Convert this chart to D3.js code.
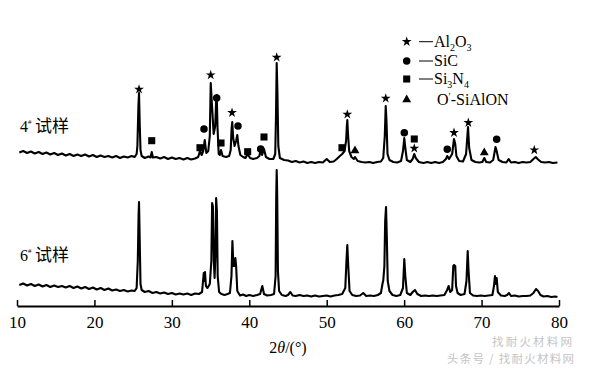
<!DOCTYPE html>
<html>
<head>
<meta charset="utf-8">
<script src="https://cdn.jsdelivr.net/npm/d3@7"></script>
<style>
  html, body { margin: 0; padding: 0; background: #fff; }
  svg { display: block; }
</style>
</head>
<body>
<svg id="chart" width="592" height="368"></svg>
<script>
// ---------------- DATA (2θ in degrees, intensity in arbitrary units, offset traces) ----------------
const xTicks = [10, 20, 30, 40, 50, 60, 70, 80];
const sampleLabels = ["4", "6"];

// 4# sample pattern (upper trace)
const trace4 = [
[10.3,153.5],[10.8,155],[11.3,153],[11.8,154.5],[12.3,152.5],[12.8,154],[13.3,152],[13.8,153.5],[14.3,151.5],[14.8,153],
[15.3,151],[15.8,152.5],[16.3,150.5],[16.8,152],[17.3,150],[17.8,151.5],[18.3,150],[18.8,151.5],[19.3,149.5],[19.8,151],
[20.3,149],[20.8,150.5],[21.3,149],[21.8,150],[22.3,148.5],[22.8,150],[23.3,148],[23.8,149.5],[24.3,148.5],[24.8,150],
[25.2,149],[25.45,152],[25.55,160],[25.68,200],[25.76,213],[25.84,185],[25.95,156],[26.1,150],[26.5,148],[27.0,149.5],
[27.25,148.5],[27.4,154],[27.55,148.5],[28.0,149],[28.5,147.5],[29.0,149],[29.5,147],[30.0,148.5],[30.5,147],[31.0,148],
[31.5,146.5],[32.0,148],[32.5,146.5],[33.0,147.5],[33.4,149],[33.63,155],[33.85,151],[34.05,155],[34.25,166],[34.45,153],
[34.7,155],[34.9,170],[35.02,223],[35.15,205],[35.4,172],[35.6,180],[35.72,205],[35.79,211],[35.9,178],[36.05,152],
[36.2,151],[36.35,156],[36.55,150],[37.0,149],[37.4,150],[37.6,156],[37.72,178],[37.8,184],[37.92,168],[38.1,160],
[38.3,165],[38.45,171],[38.6,160],[38.85,151],[39.2,149],[39.5,148],[39.79,152],[40.1,148],[40.5,147],[41.0,148],
[41.3,150],[41.47,156],[41.65,151],[41.9,157],[42.15,149],[42.6,147],[43.1,147],[43.35,152],[43.45,190],[43.54,243],
[43.63,215],[43.75,160],[43.95,148],[44.5,146],[45.0,145.5],[45.5,144],[46.0,145],[46.5,143.5],[47.0,144.5],[47.5,143],
[48.0,144],[48.5,143],[49.0,144],[49.5,143.5],[50.0,147],[50.4,144],[50.9,144.5],[51.3,147],[51.7,150],[52.0,152],
[52.3,155],[52.5,165],[52.6,180],[52.66,186],[52.75,172],[52.9,155],[53.2,149],[53.5,147],[53.65,149],[54.0,145],
[54.5,144],[55.0,143.5],[55.5,144],[56.0,143],[56.5,144],[57.0,144.5],[57.3,148],[57.5,170],[57.62,200],[57.72,185],
[57.85,152],[58.1,146],[58.6,144],[59.1,143.5],[59.6,145],[59.85,155],[60.02,168],[60.15,158],[60.35,146],[60.8,144],
[61.1,147],[61.3,152],[61.5,148],[61.9,144],[62.5,143],[63.0,144],[63.5,143],[64.0,144],[64.5,143],[65.0,144],
[65.4,147],[65.57,150],[65.8,147],[66.2,152],[66.44,167],[66.6,162],[66.75,150],[67.1,145],[67.6,144.5],[68.0,152],
[68.25,179],[68.4,158],[68.7,146],[69.2,144],[69.7,143.5],[70.1,144],[70.35,148],[70.6,144],[71.1,143.5],[71.5,146],
[71.8,159],[71.95,155],[72.2,146],[72.7,144],[73.2,143.5],[73.5,147],[73.8,143.5],[74.3,144],[74.8,143],[75.3,144],
[75.8,143.5],[76.3,144],[76.7,147],[77.0,149],[77.3,146.5],[77.7,144],[78.2,143.5],[78.7,144],[79.2,143],[79.8,143.5]
];

// 6# sample pattern (lower trace)
const trace6 = [
[10.3,21],[10.8,22.5],[11.3,20.5],[11.8,22],[12.3,20],[12.8,21.5],[13.3,19.5],[13.8,21],[14.3,19],[14.8,20.5],
[15.3,19],[15.8,20],[16.3,18.5],[16.8,20],[17.3,18],[17.8,19.5],[18.3,17.5],[18.8,19],[19.3,17],[19.8,18.5],
[20.3,16.5],[20.8,18],[21.3,16],[21.8,17.5],[22.3,15.5],[22.8,16.5],[23.3,15],[23.8,16],[24.3,14.5],[24.8,15.5],
[25.2,15],[25.45,18],[25.6,45],[25.7,90],[25.76,104],[25.84,70],[25.95,22],[26.1,16],[26.5,14],[27.0,15],
[27.5,13],[28.0,14],[28.5,12.5],[29.0,13.5],[29.5,12],[30.0,13],[30.5,11.5],[31.0,12.5],[31.5,11.5],[32.0,12.5],
[32.5,11],[33.0,12.5],[33.5,12],[33.9,14],[34.12,33],[34.2,25],[34.28,34],[34.4,20],[34.6,18],[34.9,22],
[35.1,45],[35.2,103],[35.3,100],[35.42,45],[35.52,28],[35.62,50],[35.72,108],[35.82,95],[35.92,30],[36.1,14],
[36.4,12],[36.8,11],[37.2,12],[37.5,13],[37.7,30],[37.82,65],[37.95,40],[38.05,40],[38.2,48],[38.3,40],
[38.45,15],[38.8,10.5],[39.2,11.5],[39.6,10],[40.0,11],[40.5,10],[41.0,11],[41.4,12],[41.68,20],[41.9,12],
[42.3,10.5],[42.8,11],[43.2,12],[43.4,30],[43.48,110],[43.54,136],[43.6,115],[43.7,35],[43.85,15],[44.2,11],
[44.7,10],[45.0,11],[45.3,14],[45.6,10.5],[46.0,10],[46.5,11],[47.0,10],[47.5,10.5],[48.0,9.5],[48.5,10.5],
[49.0,9.5],[49.5,10],[50.0,10.5],[50.5,9.5],[51.0,10.5],[51.5,11],[52.0,12],[52.4,18],[52.55,45],[52.66,61],
[52.78,40],[52.95,15],[53.3,11],[53.8,10],[54.3,10.5],[54.72,13],[55.1,10],[55.6,10.5],[56.1,10],[56.6,11],
[57.0,13],[57.2,22],[57.31,26],[57.45,40],[57.55,85],[57.66,99],[57.76,70],[57.88,25],[58.1,15],[58.5,11],
[59.0,10],[59.5,11],[59.85,18],[60.02,47],[60.15,30],[60.35,13],[60.8,11],[61.1,14],[61.4,16],[61.7,12],
[62.2,10],[62.7,10.5],[63.2,10],[63.7,10.5],[64.2,10],[64.7,10.5],[65.2,11],[65.55,16],[65.75,20],[65.95,14],
[66.2,16],[66.35,40],[66.45,41],[66.6,40],[66.7,20],[66.9,13],[67.3,11],[67.8,12],[68.05,25],[68.21,55],
[68.32,35],[68.5,13],[68.9,10.5],[69.4,10],[69.9,10.5],[70.4,10],[70.9,10.5],[71.4,11],[71.6,20],[71.73,30],
[71.85,22],[71.95,28],[72.1,14],[72.5,10.5],[73.0,10],[73.3,11],[73.54,13],[73.8,10],[74.3,10.5],[74.8,9.5],
[75.3,10],[75.8,10],[76.3,10.5],[76.7,13],[77.03,17],[77.3,15],[77.6,11],[78.0,9.5],[78.5,10],[79.0,9],
[79.5,9.5],[79.8,9]
];

// Phase markers on the 4# pattern: [2θ, intensity]
const phaseNames = ["Al2O3", "SiC", "Si3N4", "O'-SiAlON"];
const al2o3Marks = [[25.76,216.7],[35.02,231],[37.77,193.3],[43.54,248.7],[52.66,191.7],[57.62,207.7],[61.31,157.7],[66.44,173.3],[68.29,183.3],[76.81,156]];
const sicMarks   = [[34.15,177],[35.79,208],[38.54,180],[41.47,157],[60.02,173.3],[65.57,156.7],[71.95,166.7]];
const si3n4Marks = [[27.40,165.3],[33.63,158.3],[36.35,163],[39.79,154.3],[41.90,169],[51.97,158.3],[61.31,167]];
const sialonMarks = [[53.65,155.3],[70.35,153.3]];

const xLabel = "2θ/(°)";
const watermark = ["找耐火材料网", "头条号 / 找耐火材料网"];

// ---------------- DRAWING ----------------
const svg = d3.select("#chart");
const serif = "'Liberation Serif', 'Times New Roman', serif";
const cjk = "'Noto Sans CJK SC', 'Noto Sans', sans-serif";

const x = d3.scaleLinear().domain([10, 80]).range([17, 559]);
const y = d3.scaleLinear().domain([0, 300]).range([306, 6]);

const line = d3.line().x(d => x(d[0])).y(d => y(d[1])).curve(d3.curveLinear);

[trace4, trace6].forEach(tr => {
  svg.append("path").datum(tr)
    .attr("d", line)
    .attr("fill", "none")
    .attr("stroke", "#000")
    .attr("stroke-width", 2.1)
    .attr("stroke-linejoin", "round");
});

// x axis
const axis = d3.axisBottom(x).tickValues(xTicks).tickSizeInner(-6).tickSizeOuter(0).tickPadding(10).tickFormat(d3.format("d"));
const gx = svg.append("g").attr("transform", "translate(0,306)").call(axis)
  .attr("font-family", serif).attr("font-size", 17);
gx.select(".domain").attr("stroke", "#000").attr("stroke-width", 2);
gx.selectAll(".tick line").attr("stroke", "#000").attr("stroke-width", 1.5);
gx.selectAll(".tick text").attr("fill", "#000").style("font-family", serif).style("font-size", "17px");

// axis title
const xt = svg.append("text").attr("x", 288).attr("y", 353).attr("text-anchor", "middle")
  .style("font-family", serif).style("font-size", "16px").attr("fill", "#000");
xt.append("tspan").text(xLabel.slice(0, 1));
xt.append("tspan").style("font-style", "italic").text(xLabel.slice(1, 2));
xt.append("tspan").text(xLabel.slice(2));

// symbols
const symDefs = [
  {type: d3.symbolStar, size: 30, data: al2o3Marks},
  {type: d3.symbolCircle, size: 44, data: sicMarks},
  {type: d3.symbolSquare, size: 50, data: si3n4Marks},
  {type: d3.symbolTriangle, size: 34, data: sialonMarks}
];
symDefs.forEach(s => {
  svg.selectAll(null).data(s.data).enter().append("path")
    .attr("d", d3.symbol().type(s.type).size(s.size))
    .attr("transform", d => `translate(${x(d[0])},${y(d[1])})`)
    .attr("fill", "#000");
});

// legend
const legY = [41.7, 61, 79, 99.7];
const legX = 406.7;
symDefs.forEach((s, i) => {
  svg.append("path").attr("d", d3.symbol().type(s.type).size(s.size))
    .attr("transform", `translate(${legX},${legY[i]})`).attr("fill", "#000");
  if (i < 3) {
    svg.append("line").attr("x1", 419).attr("x2", 433).attr("y1", legY[i]).attr("y2", legY[i])
      .attr("stroke", "#000").attr("stroke-width", 1);
  }
  const t = svg.append("text").attr("x", i < 3 ? 434 : 437).attr("y", legY[i] + 5)
    .style("font-family", serif).style("font-size", "16px").attr("fill", "#000");
  const name = phaseNames[i];
  if (i === 0) {
    t.append("tspan").text("Al");
    t.append("tspan").attr("dy", 4).style("font-size", "10px").text("2");
    t.append("tspan").attr("dy", -4).text("O");
    t.append("tspan").attr("dy", 4).style("font-size", "10px").text("3");
  } else if (i === 2) {
    t.append("tspan").text("Si");
    t.append("tspan").attr("dy", 4).style("font-size", "10px").text("3");
    t.append("tspan").attr("dy", -4).text("N");
    t.append("tspan").attr("dy", 4).style("font-size", "10px").text("4");
  } else if (i === 3) {
    t.append("tspan").text("O");
    t.append("tspan").attr("dy", -5).style("font-size", "10px").text("′");
    t.append("tspan").attr("dy", 5).text("-SiAlON");
  } else {
    t.text(name);
  }
});

// sample labels
const labY = [131.5, 260.5];
sampleLabels.forEach((lab, i) => {
  const t = svg.append("text").attr("x", 20).attr("y", labY[i]).attr("fill", "#000");
  t.append("tspan").style("font-family", serif).style("font-size", "16px").text(lab);
  t.append("tspan").attr("dy", -8).style("font-family", serif).style("font-size", "7px").text("#");
  t.append("tspan").attr("dy", 8).attr("x", 35).style("font-family", cjk).style("font-size", "17px").text("试样");
});

// watermark
svg.append("text").attr("x", 492).attr("y", 346).style("font-family", cjk).style("font-size", "11.5px")
  .attr("fill", "#c4c4c4").attr("textLength", 80).text(watermark[0]);
svg.append("text").attr("x", 447).attr("y", 363).style("font-family", cjk).style("font-size", "11.5px")
  .attr("fill", "#c4c4c4").attr("textLength", 127).text(watermark[1]);
</script>
</body>
</html>
